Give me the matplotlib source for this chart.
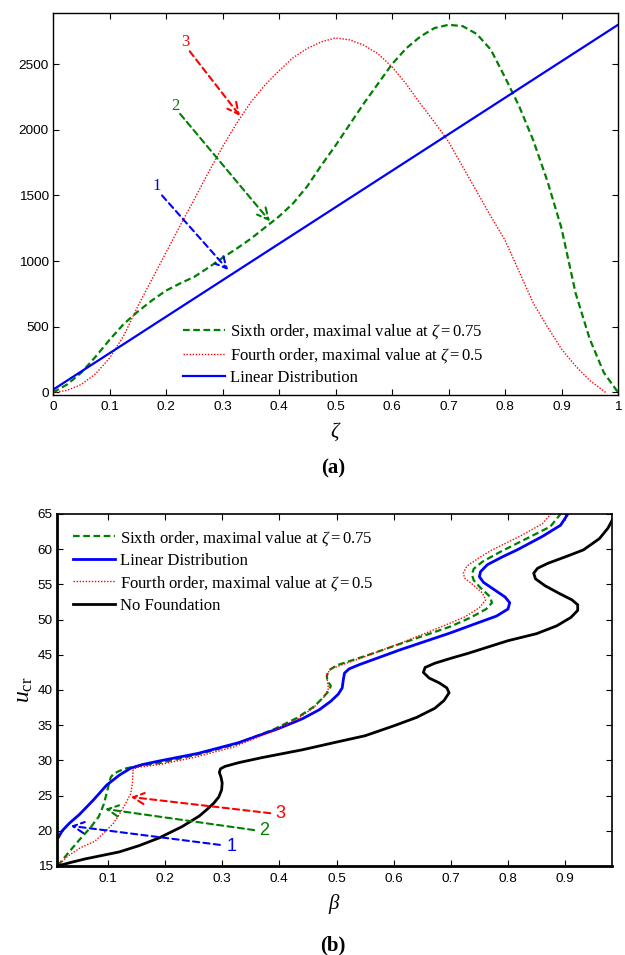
import matplotlib
matplotlib.use("Agg")
import matplotlib.pyplot as plt

# 字体：Times 风格的图例文字，Arial 风格的刻度
plt.rcParams['font.family'] = ['Liberation Sans', 'DejaVu Sans']
plt.rcParams['mathtext.fontset'] = 'custom'
plt.rcParams['mathtext.rm'] = 'Liberation Serif'
plt.rcParams['mathtext.it'] = 'Liberation Serif:italic'
plt.rcParams['mathtext.bf'] = 'Liberation Serif:bold'
plt.rcParams['lines.solid_joinstyle'] = 'round'
plt.rcParams['lines.dash_joinstyle'] = 'round'

SERIF = ['Liberation Serif', 'DejaVu Serif']

# ---------------- (a) 数据 ----------------
zeta_lin = [0.0, 1.0]
lin_a = [20, 2800]

zeta_six = [0, 0.025, 0.05, 0.075, 0.1, 0.125, 0.15, 0.175, 0.2, 0.225, 0.25,
            0.275, 0.3, 0.325, 0.35, 0.375, 0.4, 0.425, 0.45, 0.475, 0.5,
            0.525, 0.55, 0.575, 0.6, 0.625, 0.65, 0.675, 0.7, 0.725, 0.75,
            0.775, 0.8, 0.825, 0.85, 0.875, 0.9, 0.925, 0.95, 0.975, 1.0]
six_a = [0, 60, 150, 270, 400, 520, 615, 700, 775, 830, 880,
         950, 1025, 1095, 1170, 1255, 1340, 1440, 1570, 1730, 1880,
         2040, 2200, 2350, 2500, 2620, 2710, 2775, 2800, 2790, 2730,
         2610, 2400, 2180, 1920, 1610, 1250, 755, 406, 150, 0]

zeta_four = [0, 0.025, 0.05, 0.075, 0.1, 0.125, 0.15, 0.175, 0.2, 0.225, 0.25,
             0.275, 0.3, 0.325, 0.35, 0.375, 0.4, 0.425, 0.45, 0.475, 0.5,
             0.525, 0.55, 0.575, 0.6, 0.625, 0.65, 0.675, 0.7, 0.725, 0.75,
             0.775, 0.8, 0.825, 0.85, 0.875, 0.9, 0.925, 0.95, 0.978]
four_a = [0, 15, 60, 140, 260, 430, 655, 860, 1065, 1270, 1470,
          1675, 1870, 2050, 2210, 2340, 2450, 2550, 2620, 2670, 2700,
          2685, 2645, 2580, 2480, 2350, 2200, 2060, 1910, 1720, 1530,
          1340, 1160, 920, 680, 500, 330, 200, 90, 0]

# 箭头标注 (编号, 文字位置, 箭头起点, 箭头终点, 颜色)
arrows_a = [
    ('1', (0.183, 1570), (0.193, 1500), (0.31, 932), 'blue'),
    ('2', (0.216, 2182), (0.225, 2121), (0.384, 1303), 'green'),
    ('3', (0.234, 2667), (0.242, 2598), (0.331, 2106), 'red'),
]

# ---------------- (b) 数据 ----------------
beta_nf = [0.012, 0.035, 0.06, 0.09, 0.12, 0.155, 0.19, 0.21, 0.23, 0.244, 0.26,
           0.273, 0.285, 0.294, 0.299, 0.300, 0.298, 0.295, 0.297, 0.305, 0.33,
           0.37, 0.44, 0.50, 0.55, 0.60, 0.64, 0.672, 0.688, 0.697, 0.693,
           0.68, 0.662, 0.652, 0.655, 0.672, 0.70, 0.73, 0.80, 0.85, 0.885,
           0.91, 0.922, 0.922, 0.912, 0.89, 0.865, 0.848, 0.845, 0.852, 0.87,
           0.90, 0.932, 0.96, 0.975, 0.99]
u_nf = [15, 15.5, 16, 16.5, 17, 17.9, 19, 19.8, 20.6, 21.3, 22.1,
        23, 23.9, 24.8, 25.8, 26.8, 27.6, 28.3, 28.8, 29.15, 29.7,
        30.4, 31.5, 32.6, 33.5, 34.9, 36.1, 37.4, 38.5, 39.6, 40.3,
        41.0, 41.7, 42.5, 43.2, 43.8, 44.5, 45.2, 47.0, 48.0, 49.1,
        50.3, 51.3, 52.1, 52.8, 53.7, 54.8, 55.8, 56.6, 57.3, 58,
        58.9, 59.9, 61.5, 63, 65.3]

beta_lin = [0.013, 0.02, 0.033, 0.05, 0.075, 0.098, 0.12, 0.14, 0.16, 0.189, 0.258,
            0.328, 0.398, 0.44, 0.47, 0.49, 0.503, 0.51, 0.512, 0.514, 0.522,
            0.54, 0.611, 0.699, 0.746, 0.78, 0.80, 0.803, 0.795, 0.775, 0.757,
            0.750, 0.752, 0.764, 0.79, 0.816, 0.86, 0.892, 0.904, 0.91]
u_lin = [19.0, 20.0, 21.1, 22.3, 24.4, 26.5, 27.9, 28.9, 29.4, 29.9, 31.0,
         32.5, 34.5, 35.9, 37.2, 38.4, 39.4, 40.3, 41.5, 42.4, 43.0,
         43.6, 45.7, 48.1, 49.5, 50.5, 51.5, 52.4, 53.2, 54.3, 55.3,
         56.1, 56.8, 57.8, 58.9, 59.9, 61.8, 63.4, 64.9, 65.5]

beta_six = [0.012, 0.03, 0.05, 0.07, 0.084, 0.093, 0.098, 0.102, 0.105, 0.11, 0.12,
            0.133, 0.16, 0.189, 0.25, 0.32, 0.39, 0.43, 0.46, 0.475, 0.487,
            0.49, 0.484, 0.483, 0.487, 0.50, 0.553, 0.62, 0.699, 0.735, 0.762,
            0.772, 0.768, 0.752, 0.74, 0.737, 0.74, 0.755, 0.786, 0.83, 0.874,
            0.891, 0.895]
u_six = [15, 16.8, 18.7, 20.5, 22, 23.8, 25.4, 26.7, 27.6, 28.1, 28.5,
         28.9, 29.3, 29.6, 30.7, 32.2, 34.4, 36.0, 37.6, 38.8, 39.9,
         40.6, 41.3, 42.0, 42.8, 43.5, 44.9, 46.8, 49.0, 50.3, 51.5,
         52.4, 53.3, 54.5, 55.6, 56.4, 57.2, 58.2, 59.6, 61.4, 63.2,
         64.9, 65.5]

beta_four = [0.012, 0.03, 0.052, 0.077, 0.098, 0.11, 0.119, 0.13, 0.14, 0.143, 0.144,
             0.15, 0.19, 0.25, 0.32, 0.39, 0.43, 0.46, 0.478, 0.486, 0.484,
             0.483, 0.49, 0.545, 0.62, 0.69, 0.725, 0.75, 0.761, 0.755, 0.738,
             0.724, 0.722, 0.728, 0.75, 0.77, 0.82, 0.86, 0.874, 0.88]
u_four = [15, 16.4, 17.6, 18.5, 20.1, 21.1, 22.2, 23.7, 25.3, 26.8, 28.6,
          29.0, 29.4, 30.4, 31.9, 34.2, 35.8, 37.5, 39.0, 40.2, 41.3,
          42.2, 43.0, 44.6, 46.9, 49.2, 50.4, 51.7, 52.8, 53.8, 55.0,
          55.9, 56.6, 57.6, 58.8, 59.8, 61.8, 63.6, 64.9, 65.5]

arrows_b = [
    ('1', (0.317, 17.7), (0.296, 18.0), (0.035, 20.7), 'blue'),
    ('2', (0.373, 20.1), (0.356, 20.1), (0.095, 23.1), 'green'),
    ('3', (0.401, 22.4), (0.384, 22.5), (0.14, 24.8), 'red'),
]


def style_axes(ax, lw_main=1.0, lw_other=1.0, xpad=4):
    ax.tick_params(direction='in', top=True, right=True, length=4,
                   labelsize=9.7, width=0.8)
    ax.tick_params(axis='x', pad=xpad)
    ax.tick_params(axis='y', pad=3)
    for s in ['left', 'bottom']:
        ax.spines[s].set_linewidth(lw_main)
    for s in ['top', 'right']:
        ax.spines[s].set_linewidth(lw_other)


def draw_arrows(ax, arrows, family, fontsize):
    for label, tpos, start, end, color in arrows:
        ax.annotate('', xy=end, xytext=start,
                    arrowprops=dict(arrowstyle='->,head_length=0.8,head_width=0.4',
                                    color=color, lw=1.5, linestyle=(0, (3, 2)),
                                    shrinkA=0, shrinkB=0))
        ax.text(tpos[0], tpos[1], label, color=color, family=family,
                fontsize=fontsize, ha='center', va='center')


fig = plt.figure(figsize=(6.25, 9.55), dpi=100)

# ---------------- (a) ----------------
ax1 = fig.add_axes([0.0848, 0.5864, 0.904, 0.4])
ax1.plot(zeta_six, six_a, color='green', lw=1.6, linestyle=(0, (3, 1.6)),
         label=r'Sixth order, maximal value at $\mathit{\zeta{=}0.75}$')
ax1.plot(zeta_four, four_a, color='red', lw=1.0, linestyle=(0, (1, 1.2)),
         label=r'Fourth order, maximal value at $\mathit{\zeta{=}0.5}$')
ax1.plot(zeta_lin, lin_a, color='blue', lw=1.6, label='Linear Distribution')
ax1.set_xlim(0, 1)
ax1.set_ylim(-20, 2890)
ax1.set_xticks([0, 0.1, 0.2, 0.3, 0.4, 0.5, 0.6, 0.7, 0.8, 0.9, 1])
ax1.set_xticklabels(['0', '0.1', '0.2', '0.3', '0.4', '0.5', '0.6', '0.7', '0.8', '0.9', '1'])
ax1.set_yticks([0, 500, 1000, 1500, 2000, 2500])
style_axes(ax1, 1.0, 1.0, xpad=4)
ax1.set_xlabel(r'$\zeta$', fontsize=15, labelpad=6)
draw_arrows(ax1, arrows_a, SERIF, 12)
ax1.legend(loc='upper left', bbox_to_anchor=(0.23, 0.19), frameon=False,
           prop={'family': SERIF, 'size': 12}, handlelength=2.5,
           handletextpad=0.3, labelspacing=0.3, borderpad=0, borderaxespad=0)
fig.text(0.533, 1 - 468 / 955, '(a)', family=SERIF, fontsize=15, weight='bold',
         ha='center', va='center')

# ---------------- (b) ----------------
ax2 = fig.add_axes([0.0912, 0.0932, 0.888, 0.3686])
ax2.plot(beta_six, u_six, color='green', lw=1.6, linestyle=(0, (3, 1.6)),
         label=r'Sixth order, maximal value at $\mathit{\zeta{=}0.75}$')
ax2.plot(beta_lin, u_lin, color='blue', lw=2.0, label='Linear Distribution')
ax2.plot(beta_four, u_four, color='red', lw=1.0, linestyle=(0, (1, 1.2)),
         label=r'Fourth order, maximal value at $\mathit{\zeta{=}0.5}$')
ax2.plot(beta_nf, u_nf, color='black', lw=2.0, label='No Foundation')
ax2.set_xlim(0.011, 0.982)
ax2.set_ylim(15, 65)
ax2.set_xticks([0.1, 0.2, 0.3, 0.4, 0.5, 0.6, 0.7, 0.8, 0.9])
ax2.set_yticks([15, 20, 25, 30, 35, 40, 45, 50, 55, 60, 65])
style_axes(ax2, 2.0, 1.2, xpad=5)
ax2.set_xlabel(r'$\beta$', fontsize=15, labelpad=5)
ax2.set_ylabel(r'$u_{\mathrm{cr}}$', fontsize=17, labelpad=2)
draw_arrows(ax2, arrows_b, ['Liberation Sans', 'DejaVu Sans'], 13)
ax2.legend(loc='upper left', bbox_to_anchor=(0.029, 0.958), frameon=False,
           prop={'family': SERIF, 'size': 12}, handlelength=2.5,
           handletextpad=0.3, labelspacing=0.3, borderpad=0, borderaxespad=0)
fig.text(0.533, 1 - 945 / 955, '(b)', family=SERIF, fontsize=15, weight='bold',
         ha='center', va='center')

plt.savefig('out.png', dpi=100)
plt.close()
